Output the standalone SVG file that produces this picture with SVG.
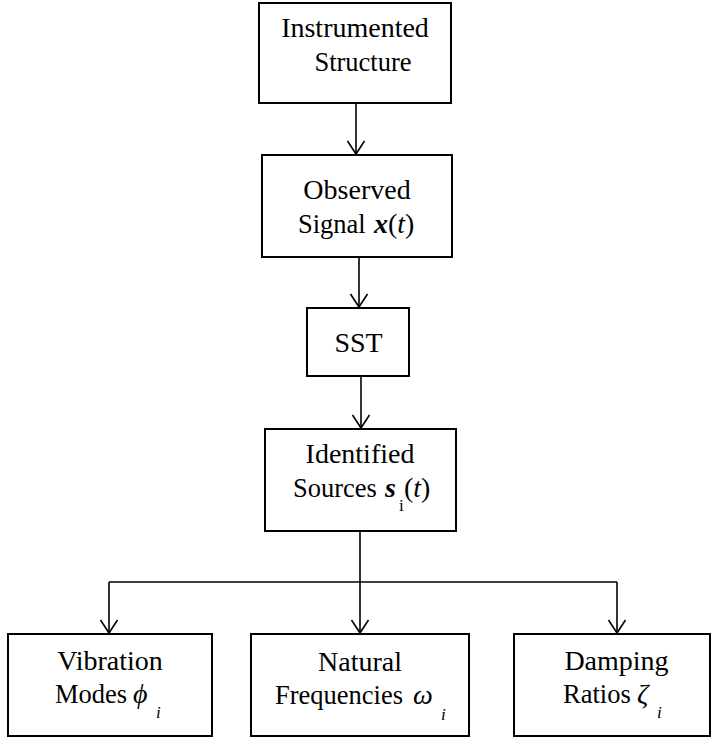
<svg xmlns="http://www.w3.org/2000/svg" width="712" height="738" viewBox="0 0 712 738">
  <style>
    .box { fill: none; stroke: #000; stroke-width: 2; }
    .wire { fill: none; stroke: #000; stroke-width: 1.6; }
    text { font-family: 'Liberation Serif', Tinos, 'DejaVu Serif', serif; font-size: 28px; fill: #000; }
    .c { text-anchor: middle; }
    .l2 { font-size: 26.5px; }
    .m { font-size: 28px; }
    .it { font-style: italic; }
    .bi { font-style: italic; font-weight: bold; }
    .sub { font-size: 17px; }
  </style>
  <defs>
    <marker id="head" markerUnits="userSpaceOnUse" orient="auto" refX="0" refY="0"
            markerWidth="30" markerHeight="30" viewBox="-15 -15 30 30" overflow="visible">
      <path d="M-13,-8.5 L0,0 L-13,8.5" fill="none" stroke="#000" stroke-width="1.6"/>
    </marker>
  </defs>

  <rect width="712" height="738" fill="#fff"/>

  <!-- connectors -->
  <g id="connectors">
    <path class="wire" d="M356,103 V154" marker-end="url(#head)"/>
    <path class="wire" d="M359,257 V307" marker-end="url(#head)"/>
    <path class="wire" d="M361,376 V428" marker-end="url(#head)"/>
    <path class="wire" d="M360,531 V633" marker-end="url(#head)"/>
    <path class="wire" d="M109,582 H617"/>
    <path class="wire" d="M109,582 V633" marker-end="url(#head)"/>
    <path class="wire" d="M617,582 V633" marker-end="url(#head)"/>
  </g>

  <g id="instrumented">
    <rect class="box" x="259" y="3" width="192" height="100"/>
    <text class="c" x="355" y="37">Instrumented</text>
    <text class="c l2" x="363" y="71">Structure</text>
  </g>

  <g id="observed">
    <rect class="box" x="262" y="155" width="190" height="102"/>
    <text class="c" x="357" y="199">Observed</text>
    <text class="l2" x="298" y="233">Signal <tspan class="bi m" x="374">x</tspan><tspan class="m">(</tspan><tspan class="it m">t</tspan><tspan class="m">)</tspan></text>
  </g>

  <g id="sst">
    <rect class="box" x="307" y="308" width="102" height="68"/>
    <text class="c" x="358.5" y="352">SST</text>
  </g>

  <g id="sources">
    <rect class="box" x="265" y="429" width="191" height="102"/>
    <text class="c" x="360" y="463">Identified</text>
    <text class="l2" x="293" y="497">Sources <tspan class="bi m" x="385">s</tspan><tspan class="sub" x="399" y="511">i</tspan><tspan class="m" x="404" y="497">(</tspan><tspan class="it m">t</tspan><tspan class="m">)</tspan></text>
  </g>

  <g id="modes">
    <rect class="box" x="8" y="634" width="204" height="102"/>
    <text class="c" x="110" y="670">Vibration</text>
    <text class="l2" x="55" y="703">Modes</text>
    <text class="it" x="133" y="703">ϕ</text>
    <text class="it sub" x="156" y="718">i</text>
  </g>

  <g id="frequencies">
    <rect class="box" x="251" y="634" width="218" height="102"/>
    <text class="c" x="360" y="671">Natural</text>
    <text class="l2" x="275" y="704">Frequencies</text>
    <text class="it" x="413" y="704">ω</text>
    <text class="it sub" x="441" y="720">i</text>
  </g>

  <g id="damping">
    <rect class="box" x="514" y="634" width="196" height="102"/>
    <text class="c" x="616.5" y="670">Damping</text>
    <text class="l2" x="563" y="703">Ratios</text>
    <text class="it" x="637" y="703">ζ</text>
    <text class="it sub" x="657" y="718">i</text>
  </g>
</svg>
